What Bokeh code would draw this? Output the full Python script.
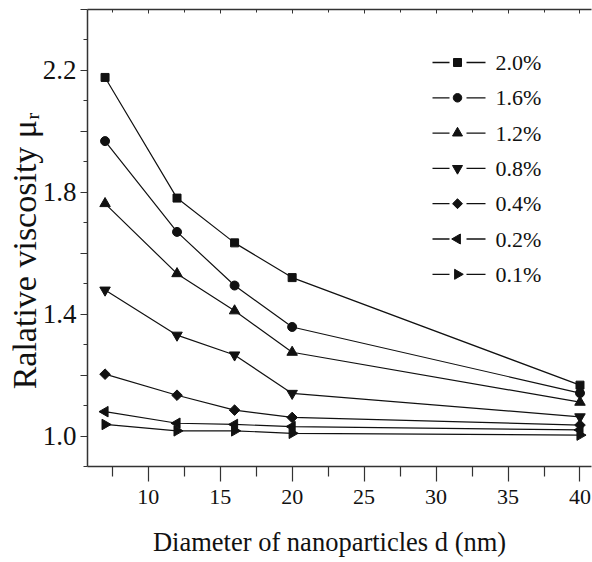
import math
from bokeh.plotting import figure
from bokeh.models import (LinearAxis, FixedTicker, Range1d, ColumnDataSource,
                          CustomLabelingPolicy)
from bokeh.core.properties import value
from bokeh.embed import file_html
from bokeh.resources import INLINE

# ---------------- data ----------------
diameter_nm = [7, 12, 16, 20, 40]
conc_labels = ["2.0%", "1.6%", "1.2%", "0.8%", "0.4%", "0.2%", "0.1%"]
mu_2_0 = [2.177, 1.781, 1.634, 1.520, 1.167]
mu_1_6 = [1.968, 1.670, 1.494, 1.358, 1.141]
mu_1_2 = [1.763, 1.533, 1.411, 1.275, 1.111]
mu_0_8 = [1.479, 1.331, 1.266, 1.140, 1.063]
mu_0_4 = [1.203, 1.134, 1.085, 1.061, 1.036]
mu_0_2 = [1.080, 1.042, 1.038, 1.031, 1.020]
mu_0_1 = [1.038, 1.017, 1.017, 1.009, 1.003]

x_major_ticks = [10, 15, 20, 25, 30, 35, 40]
x_minor_ticks = [7.5, 12.5, 17.5, 22.5, 27.5, 32.5, 37.5]
x_tick_labels = ["10", "15", "20", "25", "30", "35", "40"]
y_major_ticks = [1.0, 1.2, 1.4, 1.6, 1.8, 2.0, 2.2, 2.4]
y_minor_ticks = [0.9, 1.1, 1.3, 1.5, 1.7, 1.9, 2.1, 2.3]
y_tick_labels = ["1.0", "1.2", "1.4", "1.6", "1.8", "2.0", "2.2", "2.4"]

x_title = "Diameter of nanoparticles d (nm)"
y_title = "Ralative viscosity μᵣ"

series = [mu_2_0, mu_1_6, mu_1_2, mu_0_8, mu_0_4, mu_0_2, mu_0_1]

# ---------------- styles / layout ----------------
W, H = 592, 562
LEFT, RIGHT, TOP, BOTTOM = 87, 1, 9, 96
X0, X1 = 5.78, 40.8
Y0, Y1 = 0.9, 2.4
FONT = "Liberation Serif"
INK = "#111111"
AXIS = "#333333"
NBSP = "\u00a0"

markers = ["square", "circle", "triangle", "inverted_triangle", "square", "triangle", "triangle"]
angles = [0, 0, 0, 0, math.pi / 4, math.pi / 2, -math.pi / 2]
sizes = [8, 9, 10.5, 10.5, 7.5, 10.5, 10.5]
leg_sizes = [8, 8.5, 10, 10, 7, 10, 10]


def px_x(px):
    return X0 + (px - LEFT) * (X1 - X0) / (W - LEFT - RIGHT)


def px_y(py):
    return Y0 + (H - BOTTOM - py) * (Y1 - Y0) / (H - TOP - BOTTOM)


p = figure(width=W, height=H, x_range=Range1d(X0, X1), y_range=Range1d(Y0, Y1),
           output_backend="svg", toolbar_location=None,
           min_border_left=LEFT, min_border_right=RIGHT,
           min_border_top=TOP, min_border_bottom=BOTTOM)
p.xgrid.visible = False
p.ygrid.visible = False
p.outline_line_color = None
p.background_fill_color = "white"
p.border_fill_color = "white"

# bottom axis
xa = p.xaxis[0]
xa.ticker = FixedTicker(ticks=x_major_ticks, minor_ticks=x_minor_ticks)
xa.major_label_overrides = dict(zip(x_major_ticks, x_tick_labels))
xa.major_tick_out = 15
xa.major_tick_in = 0
xa.minor_tick_out = 10
xa.minor_tick_in = 0
xa.major_label_standoff = 8
xa.major_label_text_font = FONT
xa.major_label_text_font_size = "22px"
xa.major_label_text_color = INK
xa.axis_line_color = AXIS
xa.axis_line_width = 1.5
xa.major_tick_line_color = AXIS
xa.minor_tick_line_color = AXIS
xa.major_tick_line_width = 1.2
xa.minor_tick_line_width = 1.2
xa.axis_label = x_title + NBSP * 3
xa.axis_label_text_font = FONT
xa.axis_label_text_font_style = "normal"
xa.axis_label_text_font_size = "26.5px"
xa.axis_label_text_color = INK
xa.axis_label_standoff = 20

# left axis: ticks every 0.2, labels on every other tick
ya = p.yaxis[0]
ya.ticker = FixedTicker(ticks=y_major_ticks, minor_ticks=y_minor_ticks)
ya.major_label_overrides = dict(zip(y_major_ticks, y_tick_labels))
ya.major_label_policy = CustomLabelingPolicy(
    code="for (const i of indices) { if (i % 2 == 0) yield i }")
ya.major_tick_out = 7
ya.major_tick_in = 0
ya.minor_tick_out = 4
ya.minor_tick_in = 0
ya.major_label_standoff = 4
ya.major_label_text_font = FONT
ya.major_label_text_font_size = "27px"
ya.major_label_text_color = INK
ya.axis_line_color = AXIS
ya.axis_line_width = 1.5
ya.major_tick_line_color = AXIS
ya.minor_tick_line_color = AXIS
ya.major_tick_line_width = 1.2
ya.minor_tick_line_width = 1.2
ya.axis_label = y_title + NBSP * 3
ya.axis_label_text_font = FONT
ya.axis_label_text_font_style = "normal"
ya.axis_label_text_font_size = "34px"
ya.axis_label_text_color = INK
ya.axis_label_standoff = -3

# top axis (ticks inside, no labels drawn)
ta = LinearAxis(ticker=FixedTicker(ticks=x_major_ticks, minor_ticks=x_minor_ticks),
                major_tick_in=4, major_tick_out=0, minor_tick_in=3, minor_tick_out=0,
                major_label_text_font_size="1px", major_label_standoff=0,
                major_label_policy=CustomLabelingPolicy(
                    code="for (const i of indices) { if (i < 0) yield i }"),
                axis_line_color=AXIS, axis_line_width=1.5,
                major_tick_line_color=AXIS, minor_tick_line_color=AXIS)
p.add_layout(ta, "above")

# ---------------- data marks ----------------
for vals in series:
    src = ColumnDataSource(dict(x=diameter_nm, y=vals))
    p.line("x", "y", source=src, line_color=INK, line_width=1.2)

for vals, m, a, s in zip(series, markers, angles, sizes):
    src = ColumnDataSource(dict(x=diameter_nm, y=vals))
    p.scatter("x", "y", source=src, marker=m, angle=a, size=s,
              fill_color=INK, line_color=INK, line_width=1)

# ---------------- legend (drawn inside the frame) ----------------
n = len(conc_labels)
row_py = [62 + 35.3 * i for i in range(n)]
leg = ColumnDataSource(dict(
    y=[px_y(v) for v in row_py],
    xl0=[px_x(432)] * n, xl1=[px_x(449)] * n,
    xr0=[px_x(466)] * n, xr1=[px_x(485)] * n,
    xm=[px_x(457)] * n, xt=[px_x(495)] * n,
    marker=markers, angle=angles, size=leg_sizes, label=conc_labels,
))
p.segment(x0="xl0", y0="y", x1="xl1", y1="y", source=leg, line_color=INK, line_width=1.3)
p.segment(x0="xr0", y0="y", x1="xr1", y1="y", source=leg, line_color=INK, line_width=1.3)
p.scatter(x="xm", y="y", marker="marker", angle="angle", size="size", source=leg,
          fill_color=INK, line_color=INK, line_width=1)
p.text(x="xt", y="y", text="label", source=leg, text_font=value(FONT),
       text_font_size=value("22px"), text_baseline="middle", text_align="left",
       text_color=INK)

open("out.html", "w").write(file_html(p, INLINE))
